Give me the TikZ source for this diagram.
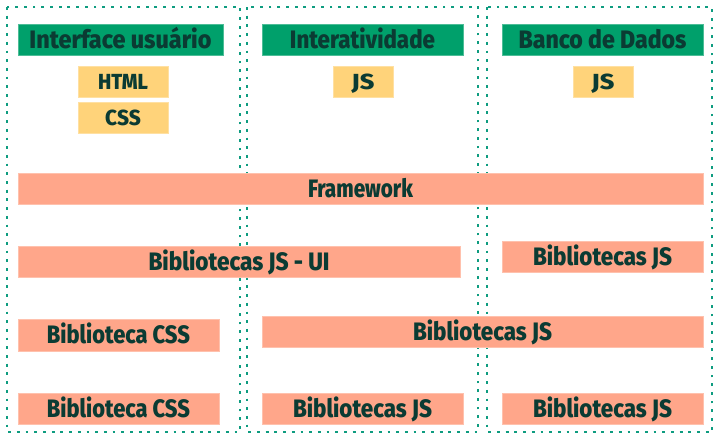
\documentclass[tikz,border=0pt]{standalone}
\usepackage{graphicx}
\usepackage{fontspec}
\setmainfont{Fira Sans}[UprightFont=* ExtraBold, BoldFont=* ExtraBold]
\newcommand{\fitw}[2]{\resizebox{#1pt}{\height}{#2}}
\definecolor{grn}{HTML}{00A06B}
\definecolor{yel}{HTML}{FFD37A}
\definecolor{sal}{HTML}{FFA68A}
\definecolor{txt}{HTML}{0B3B33}
\definecolor{dot}{HTML}{0E9C80}
\tikzset{
  box/.style={rectangle, inner sep=0pt, minimum height=31pt, text=txt, line width=0.8pt, text height=17.4pt, text depth=0pt},
  hdr/.style={box, fill=grn, draw=grn!70!white, font=\fontsize{25.2}{25}\selectfont},
  tag/.style={box, fill=yel, draw=yel!70!white, font=\fontsize{21.8}{22}\selectfont, text height=15pt},
  lib/.style={box, fill=sal, draw=sal!70!white, font=\fontsize{25.2}{25}\selectfont},
  col/.style={draw=dot, line width=2.8pt, dash pattern=on 2.8pt off 5.9pt}
}
\begin{document}
\begin{tikzpicture}[x=1pt,y=-1pt]
\useasboundingbox[fill=white] (0,0) rectangle (721,439);
\draw[col] (7,7) rectangle (240,432);
\draw[col] (247,7) rectangle (478,432);
\draw[col] (487,7) rectangle (712,432);
\node[hdr, minimum width=205pt] (h1) at (120.5,39.5) {\fitw{182}{Interface usuário}};
\node[tag, minimum width=90pt] (html) at (123,81.5) {\fitw{50}{HTML}};
\node[tag, minimum width=90pt] (css) at (123,117.5) {\fitw{35.6}{CSS}};
\node[hdr, minimum width=201pt] (h2) at (362.5,39.5) {\fitw{145}{Interatividade}};
\node[tag, minimum width=60pt] (js2) at (363,81.5) {\fitw{22.6}{JS}};
\node[hdr, minimum width=201pt] (h3) at (602.5,39.5) {\fitw{168}{Banco de Dados}};
\node[tag, minimum width=60pt] (js3) at (603,81.5) {\fitw{22.6}{JS}};
\node[lib, minimum width=685pt] (fw) at (360.5,188.5) {\fitw{105}{Framework}};
\node[lib, minimum width=442pt] (ui) at (239,261.5) {\fitw{181}{Bibliotecas JS - UI}};
\node[lib, minimum width=201pt] (bj3a) at (602.5,256.5) {\fitw{139}{Bibliotecas JS}};
\node[lib, minimum width=201pt, minimum height=32pt] (css1) at (118.5,335) {\fitw{143}{Biblioteca CSS}};
\node[lib, minimum width=441pt] (bjw) at (482.5,331.5) {\fitw{139}{Bibliotecas JS}};
\node[lib, minimum width=201pt] (css2) at (118.5,408.5) {\fitw{143}{Biblioteca CSS}};
\node[lib, minimum width=201pt] (bj2b) at (362.5,408.5) {\fitw{139}{Bibliotecas JS}};
\node[lib, minimum width=201pt] (bj3b) at (602.5,408.5) {\fitw{139}{Bibliotecas JS}};
\end{tikzpicture}
\end{document}
